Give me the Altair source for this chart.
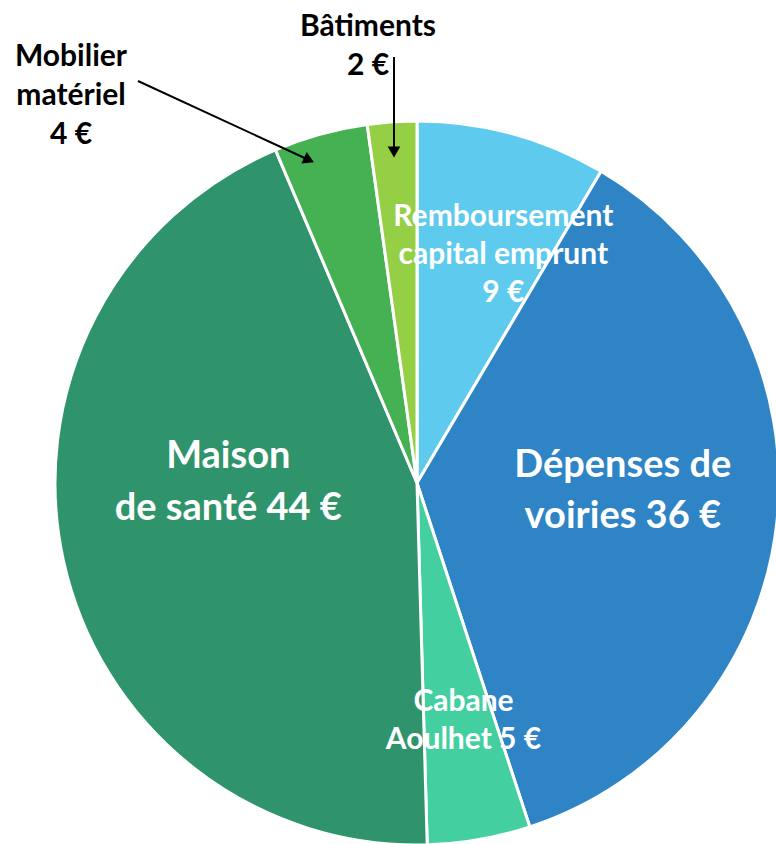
import math
import altair as alt
import pandas as pd

categories = ["Remboursement capital emprunt", "Dépenses de voiries", "Cabane Aoulhet",
              "Maison de santé", "Mobilier matériel", "Bâtiments"]
values = [8.5, 36.5, 4.6, 44.1, 4.2, 2.2]
labels = ["Remboursement\ncapital emprunt\n9 €", "Dépenses de\nvoiries 36 €", "Cabane\nAoulhet 5 €",
          "Maison\nde santé 44 €", "Mobilier\nmatériel\n4 €", "Bâtiments\n2 €"]
colors = ["#5ECAEE", "#2E84C5", "#43CFA0", "#2F936B", "#45B153", "#95CF45"]

df = pd.DataFrame({"cat": categories, "value": values, "label": labels,
                   "order": list(range(len(categories)))})
total = sum(values)

CX, CY, R = 417, 483, 362
FONT = "Lato"
theta_scale = alt.Scale(domain=[0, total], range=[0, 2 * math.pi])

base = alt.Chart(df)

pie = base.mark_arc(outerRadius=R, stroke="white", strokeWidth=3).encode(
    theta=alt.Theta("value:Q", stack=True, scale=theta_scale),
    color=alt.Color("cat:N", scale=alt.Scale(domain=categories, range=colors), legend=None),
    order=alt.Order("order:Q", sort="ascending"),
    x=alt.value(CX), y=alt.value(CY),
)


def inner_label(cat, r, dx, dy, size, lh, color="white"):
    return (
        base.transform_window(cum="sum(value)", sort=[alt.SortField("order")])
        .transform_calculate(mid="datum.cum - datum.value / 2")
        .transform_filter(alt.datum.cat == cat)
        .mark_text(radius=r, dx=dx, dy=dy, font=FONT, fontWeight="bold", fontSize=size,
                   lineHeight=lh, lineBreak="\n", color=color, align="center", baseline="middle")
        .encode(theta=alt.Theta("mid:Q", stack=None, scale=theta_scale),
                text="label:N", x=alt.value(CX), y=alt.value(CY))
    )


lab_remb = inner_label(categories[0], 244, 22, -31, 30, 38)
lab_dep = inner_label(categories[1], 207, 0, -39, 38, 51)
lab_cab = inner_label(categories[2], 230, 7, -8, 30, 38)
lab_mai = inner_label(categories[3], 188, -5, -66, 38, 52)


def outer_label(cat, x, y):
    return (
        base.transform_filter(alt.datum.cat == cat)
        .mark_text(font=FONT, fontWeight="bold", fontSize=30, lineHeight=39, lineBreak="\n",
                   color="black", align="center", baseline="middle")
        .encode(text="label:N", x=alt.value(x), y=alt.value(y))
    )


lab_mob = outer_label(categories[4], 71, 57)
lab_bat = outer_label(categories[5], 368, 27)

one = alt.Chart(pd.DataFrame({"a": [0]}))
arrow1 = one.mark_rule(color="black", strokeWidth=2).encode(
    x=alt.value(138), y=alt.value(81), x2=alt.value(309), y2=alt.value(160))
head1 = one.mark_point(shape="triangle-up", filled=True, size=160, angle=115, color="black",
                       opacity=1).encode(x=alt.value(309), y=alt.value(160))
arrow2 = one.mark_rule(color="black", strokeWidth=2).encode(
    x=alt.value(394), y=alt.value(57), x2=alt.value(394), y2=alt.value(152))
head2 = one.mark_point(shape="triangle-up", filled=True, size=160, angle=180, color="black",
                       opacity=1).encode(x=alt.value(394), y=alt.value(152))

chart = alt.layer(
    pie, lab_remb, lab_dep, lab_cab, lab_mai, lab_mob, lab_bat, arrow1, head1, arrow2, head2
).properties(
    width=776, height=844, autosize=alt.AutoSizeParams(type="none"), padding=0,
    background="white",
).configure_view(stroke=None)

chart.save("out.html", embed_options={"renderer": "svg", "actions": False})
